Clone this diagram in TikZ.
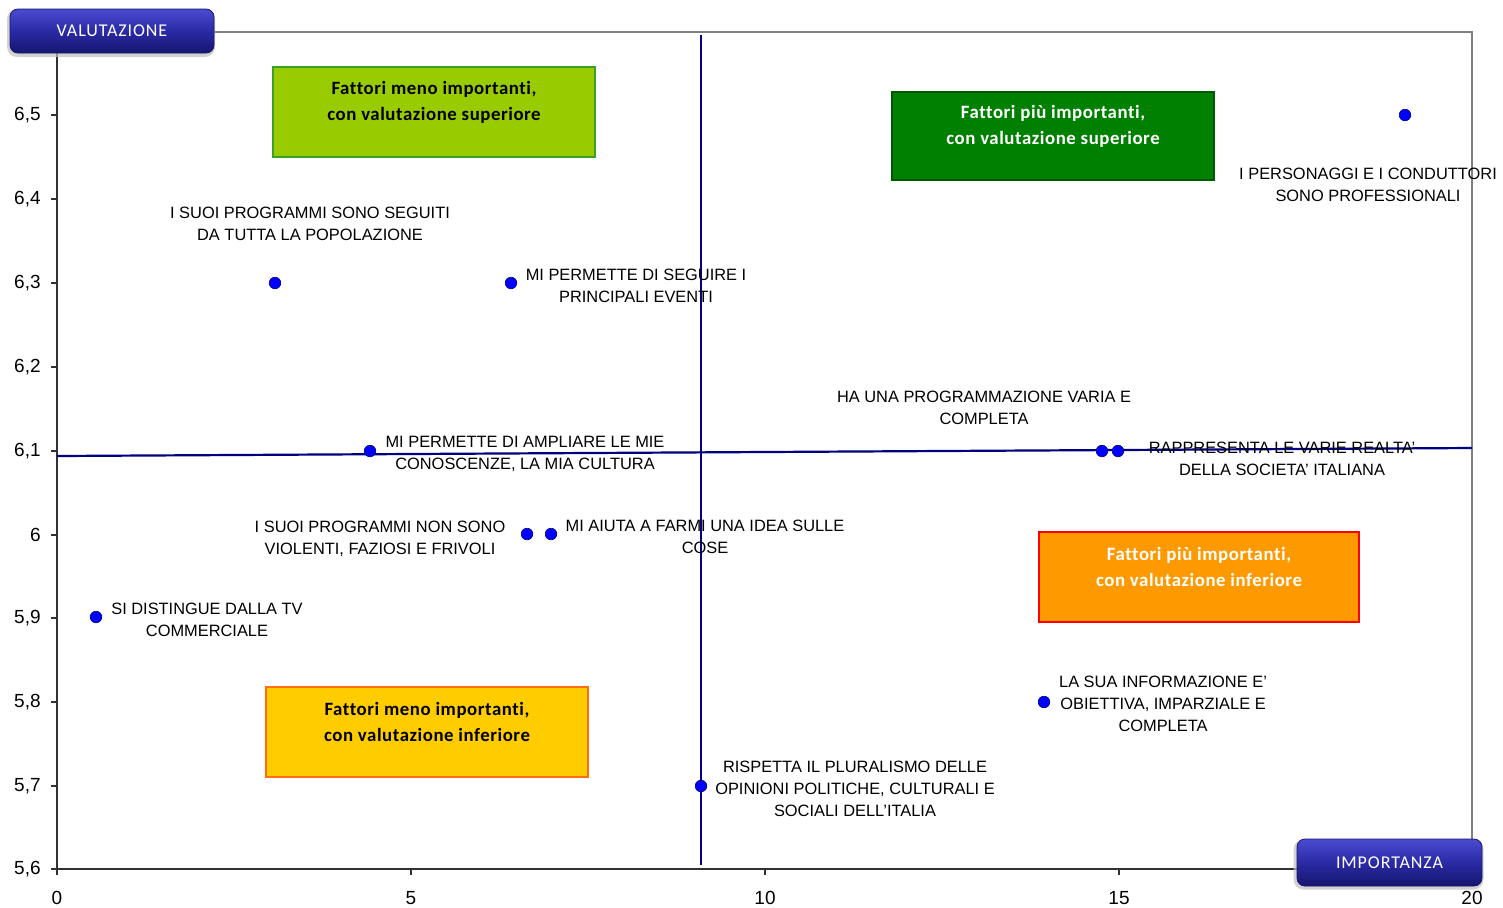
\documentclass[tikz,border=0pt]{standalone}
\usepackage{fontspec}
\setmainfont{Liberation Sans}
\newfontfamily\boxfont[LetterSpace=3,Ligatures={NoCommon,NoRequired,NoContextual}]{Carlito}
\newfontfamily\btnfont[LetterSpace=5,Ligatures={NoCommon,NoRequired,NoContextual}]{Carlito}
\definecolor{navyline}{RGB}{0,0,128}
\definecolor{ptblue}{RGB}{0,0,255}
\definecolor{lgfill}{RGB}{153,204,0}
\definecolor{lgdraw}{RGB}{60,160,40}
\definecolor{dgfill}{RGB}{0,128,0}
\definecolor{dgdraw}{RGB}{0,90,0}
\definecolor{orfill}{RGB}{255,153,0}
\definecolor{ordraw}{RGB}{255,0,0}
\definecolor{yefill}{RGB}{255,204,0}
\definecolor{yedraw}{RGB}{255,110,20}
\definecolor{btntop}{RGB}{75,75,210}
\definecolor{btnmid}{RGB}{42,42,165}
\definecolor{btnbot}{RGB}{22,22,110}
\definecolor{framegray}{RGB}{128,128,128}
\definecolor{axisgray}{RGB}{50,50,50}
\tikzset{
  pt/.style={circle,fill=ptblue,draw=navyline,line width=0.3pt,inner sep=0pt,minimum size=5.8pt},
  lbl/.style={align=center,inner sep=0pt,font=\fontsize{8.2}{11}\selectfont},
  ytl/.style={anchor=east,inner sep=0pt,font=\fontsize{9.5}{11}\selectfont},
  xtl/.style={anchor=center,inner sep=0pt,font=\fontsize{9.5}{11}\selectfont},
  qbox/.style={rectangle,line width=0.8pt,minimum width=161pt,minimum height=45pt,inner sep=0pt},
  qtxt/.style={align=center,inner sep=0pt,font=\boxfont\bfseries\fontsize{9.4}{13}\selectfont},
  btn/.style={rectangle,rounded corners=4pt,draw=btnbot,line width=0.4pt,top color=btntop,bottom color=btnbot,middle color=btnmid,text=white,font=\btnfont\fontsize{9}{11}\selectfont},
  btnshadow/.style={rectangle,rounded corners=5pt,fill=black!25,opacity=0.7},
  quad/.style={navyline,line width=1.1pt},
  axis/.style={axisgray,line width=0.7pt},
  frame/.style={framegray,line width=0.8pt}
}
\begin{document}
\begin{tikzpicture}[x=0.5pt,y=-0.5pt]
\useasboundingbox (0,0) rectangle (1503,907);
% frame
\coordinate (ftl) at (214,32);
\coordinate (ftr) at (1472,32);
\coordinate (fbr) at (1472,869);
\draw[frame] (ftl) -- (ftr) -- (fbr);
% axes
\coordinate (yt) at (57,53);
\coordinate (org) at (57,869);
\coordinate (xr) at (1472,869);
\draw[axis] (yt) -- (org) -- (xr);
% y ticks
\foreach \y/\t in {115/{6,5},199/{6,4},283/{6,3},367/{6,2},451/{6,1},535/6,618/{5,9},702/{5,8},786/{5,7},869/{5,6}}{
  \draw[axis] (51,\y) -- (57,\y);
  \node[ytl] at (41,\y) {\t};
}
% x ticks
\foreach \x/\t in {57/0,411/5,765/10,1119/15,1472/20}{
  \draw[axis] (\x,869) -- (\x,875);
  \node[xtl] at (\x,898) {\t};
}
% quadrant boxes
\node[qbox,fill=lgfill,draw=lgdraw] (q1) at (434,112) {};
\node[qtxt,text=black] (q1t) at ([yshift=5pt]q1.center) {Fattori meno importanti,\\con valutazione superiore};
\node[qbox,fill=dgfill,draw=dgdraw,minimum height=44pt] (q2) at (1053,136) {};
\node[qtxt,text=white] (q2t) at ([yshift=4.75pt]q2.center) {Fattori più importanti,\\con valutazione superiore};
\node[qbox,fill=orfill,draw=ordraw,minimum width=160pt] (q3) at (1199,577) {};
\node[qtxt,text=white] (q3t) at ([yshift=5.25pt]q3.center) {Fattori più importanti,\\con valutazione inferiore};
\node[qbox,fill=yefill,draw=yedraw] (q4) at (427,732) {};
\node[qtxt,text=black] (q4t) at ([yshift=5pt]q4.center) {Fattori meno importanti,\\con valutazione inferiore};
% quadrant lines
\coordinate (vt) at (701,35);
\coordinate (vb) at (701,865);
\coordinate (hl) at (57,456);
\coordinate (hr) at (1472,448);
\draw[quad] (vt) -- (vb);
\draw[quad] (hl) -- (hr);
% points
\node[pt] (p1) at (1405,115) {};
\node[pt] (p2) at (275,283) {};
\node[pt] (p3) at (511,283) {};
\node[pt] (p4) at (370,451) {};
\node[pt] (p5) at (1102,451) {};
\node[pt] (p6) at (1118,451) {};
\node[pt] (p7) at (527,534) {};
\node[pt] (p8) at (551,534) {};
\node[pt] (p9) at (96,617) {};
\node[pt] (p10) at (1044,702) {};
\node[pt] (p11) at (701,786) {};
% labels
\node[lbl] (l1) at (1368,185) {I PERSONAGGI E I CONDUTTORI\\SONO PROFESSIONALI};
\node[lbl] (l2) at (310,224) {I SUOI PROGRAMMI SONO SEGUITI\\DA TUTTA LA POPOLAZIONE};
\node[lbl] (l3) at (636,286) {MI PERMETTE DI SEGUIRE I\\PRINCIPALI EVENTI};
\node[lbl] (l4) at (984,408) {HA UNA PROGRAMMAZIONE VARIA E\\COMPLETA};
\node[lbl] (l5) at (525,454) {MI PERMETTE DI AMPLIARE LE MIE\\CONOSCENZE, LA MIA CULTURA};
\node[lbl] (l6) at (1282,459) {RAPPRESENTA LE VARIE REALTA’\\DELLA SOCIETA’ ITALIANA};
\node[lbl] (l7) at (380,539) {I SUOI PROGRAMMI NON SONO\\VIOLENTI, FAZIOSI E FRIVOLI};
\node[lbl] (l8) at (705,537) {MI AIUTA A FARMI UNA IDEA SULLE\\COSE};
\node[lbl] (l9) at (207,620) {SI DISTINGUE DALLA TV\\COMMERCIALE};
\node[lbl] (l10) at (1163,704) {LA SUA INFORMAZIONE E’\\OBIETTIVA, IMPARZIALE E\\COMPLETA};
\node[lbl] (l11) at (855,789) {RISPETTA IL PLURALISMO DELLE\\OPINIONI POLITICHE, CULTURALI E\\SOCIALI DELL’ITALIA};
% buttons
\node[btnshadow,minimum width=104pt,minimum height=24pt] at (111,33) {};
\node[btn,minimum width=102pt,minimum height=22pt] (bv) at (112,31) {VALUTAZIONE};
\node[btnshadow,minimum width=95pt,minimum height=25pt] at (1388.5,864.5) {};
\node[btn,minimum width=92.5pt,minimum height=23.5pt] (bi) at (1389.5,862.5) {IMPORTANZA};
\end{tikzpicture}
\end{document}
